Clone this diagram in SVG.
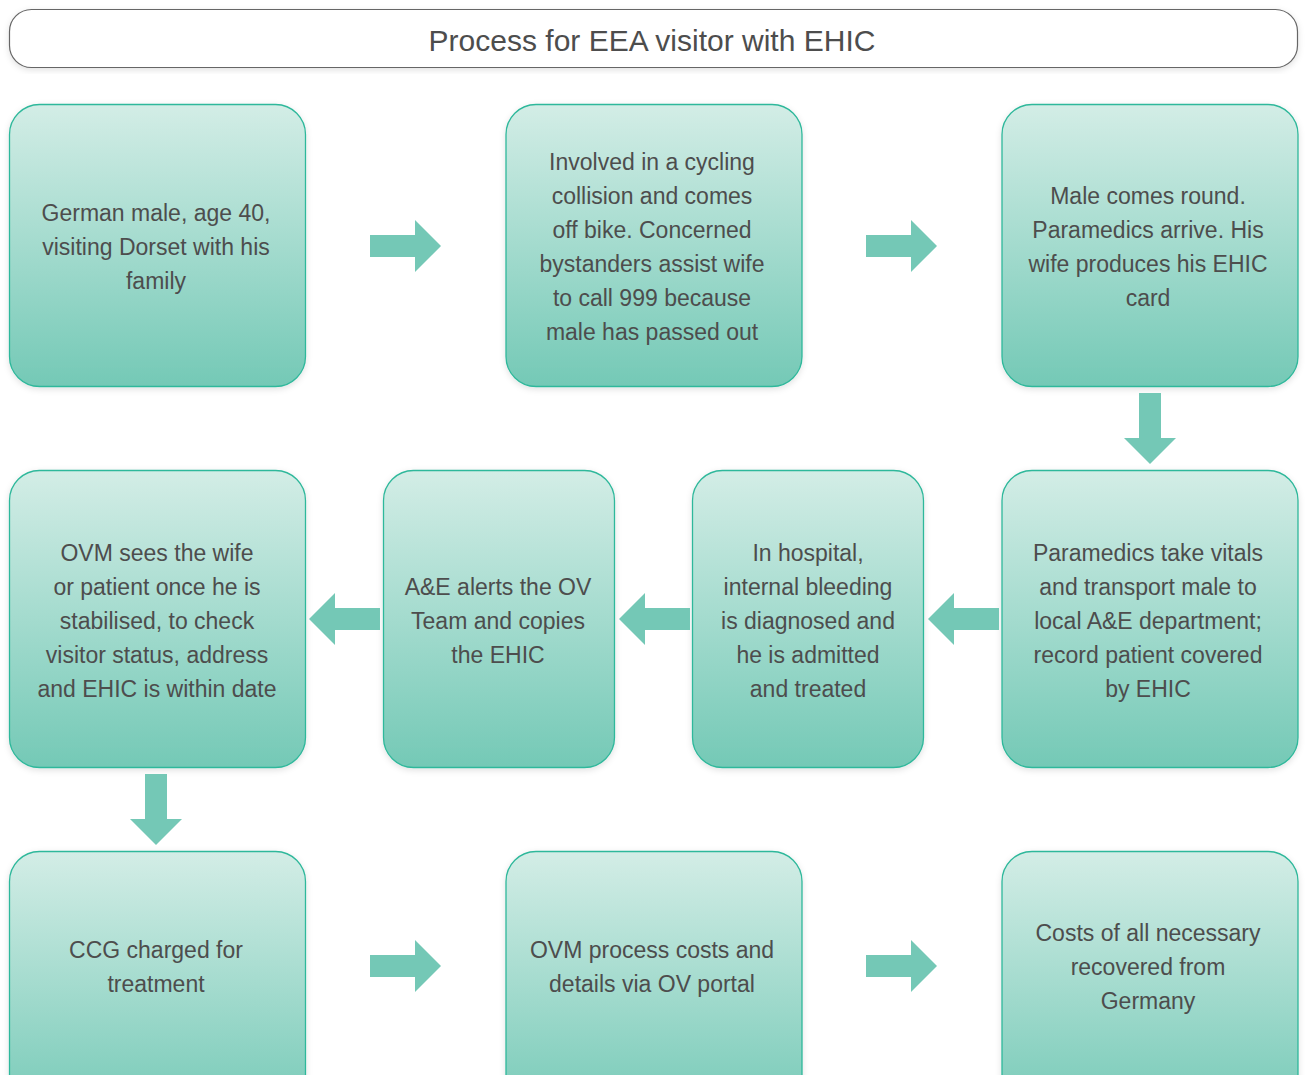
<svg xmlns="http://www.w3.org/2000/svg" width="1306" height="1075" viewBox="0 0 1306 1075">
<defs>
<linearGradient id="g" x1="0" y1="0" x2="0" y2="1">
<stop offset="0" stop-color="#d3ede6"/>
<stop offset="1" stop-color="#74c9b6"/>
</linearGradient>
<filter id="sh" x="-10%" y="-10%" width="120%" height="120%">
<feDropShadow dx="0" dy="2" stdDeviation="3" flood-color="#000" flood-opacity="0.12"/>
</filter>
<path id="ar" d="M0,-11 H45 V-26 L71,0 L45,26 V11 H0 Z"/>
</defs>
<style>
.n{fill:url(#g);stroke:#2fb89b;stroke-width:1.3;filter:url(#sh)}
.t{font-family:"Liberation Sans",Arial,sans-serif;font-size:23px;fill:#4d4d4d;text-anchor:middle}
.a{fill:#74c8b6}
</style>
<rect width="1306" height="1075" fill="#fff"/>
<g id="title">
<rect x="9.5" y="9.5" width="1288" height="58" rx="22" fill="#fff" stroke="#666" stroke-width="1.2" filter="url(#sh)"/>
<text x="652" y="51" class="t" style="font-size:30px">Process for EEA visitor with EHIC</text>
</g>
<g id="n1"><rect class="n" x="9.5" y="104.5" width="296" height="282" rx="30"/>
<text class="t" x="156" y="221">German male, age 40,</text><text class="t" x="156" y="255">visiting Dorset with his</text><text class="t" x="156" y="289">family</text></g>
<g id="n2"><rect class="n" x="506" y="104.5" width="296" height="282" rx="30"/>
<text class="t" x="652" y="170">Involved in a cycling</text><text class="t" x="652" y="204">collision and comes</text><text class="t" x="652" y="238">off bike. Concerned</text><text class="t" x="652" y="272">bystanders assist wife</text><text class="t" x="652" y="306">to call 999 because</text><text class="t" x="652" y="340">male has passed out</text></g>
<g id="n3"><rect class="n" x="1002" y="104.5" width="296" height="282" rx="30"/>
<text class="t" x="1148" y="204">Male comes round.</text><text class="t" x="1148" y="238">Paramedics arrive. His</text><text class="t" x="1148" y="272">wife produces his EHIC</text><text class="t" x="1148" y="306">card</text></g>
<g id="n4"><rect class="n" x="1002" y="470.5" width="296" height="297" rx="30"/>
<text class="t" x="1148" y="561">Paramedics take vitals</text><text class="t" x="1148" y="595">and transport male to</text><text class="t" x="1148" y="629">local A&amp;E department;</text><text class="t" x="1148" y="663">record patient covered</text><text class="t" x="1148" y="697">by EHIC</text></g>
<g id="n5"><rect class="n" x="692.5" y="470.5" width="231" height="297" rx="30"/>
<text class="t" x="808" y="561">In hospital,</text><text class="t" x="808" y="595">internal bleeding</text><text class="t" x="808" y="629">is diagnosed and</text><text class="t" x="808" y="663">he is admitted</text><text class="t" x="808" y="697">and treated</text></g>
<g id="n6"><rect class="n" x="383.5" y="470.5" width="231" height="297" rx="30"/>
<text class="t" x="498" y="595">A&amp;E alerts the OV</text><text class="t" x="498" y="629">Team and copies</text><text class="t" x="498" y="663">the EHIC</text></g>
<g id="n7"><rect class="n" x="9.5" y="470.5" width="296" height="297" rx="30"/>
<text class="t" x="157" y="561">OVM sees the wife</text><text class="t" x="157" y="595">or patient once he is</text><text class="t" x="157" y="629">stabilised, to check</text><text class="t" x="157" y="663">visitor status, address</text><text class="t" x="157" y="697">and EHIC is within date</text></g>
<g id="n8"><rect class="n" x="9.5" y="851.5" width="296" height="270" rx="30"/>
<text class="t" x="156" y="958">CCG charged for</text><text class="t" x="156" y="992">treatment</text></g>
<g id="n9"><rect class="n" x="506" y="851.5" width="296" height="270" rx="30"/>
<text class="t" x="652" y="958">OVM process costs and</text><text class="t" x="652" y="992">details via OV portal</text></g>
<g id="n10"><rect class="n" x="1002" y="851.5" width="296" height="270" rx="30"/>
<text class="t" x="1148" y="941">Costs of all necessary</text><text class="t" x="1148" y="975">recovered from</text><text class="t" x="1148" y="1009">Germany</text></g>
<g id="connectors" class="a">
<use href="#ar" transform="translate(370,246)"/>
<use href="#ar" transform="translate(866,246)"/>
<use href="#ar" transform="translate(1150,393) rotate(90)"/>
<use href="#ar" transform="translate(999,619) rotate(180)"/>
<use href="#ar" transform="translate(690,619) rotate(180)"/>
<use href="#ar" transform="translate(380,619) rotate(180)"/>
<use href="#ar" transform="translate(156,774) rotate(90)"/>
<use href="#ar" transform="translate(370,966)"/>
<use href="#ar" transform="translate(866,966)"/>
</g>
</svg>
